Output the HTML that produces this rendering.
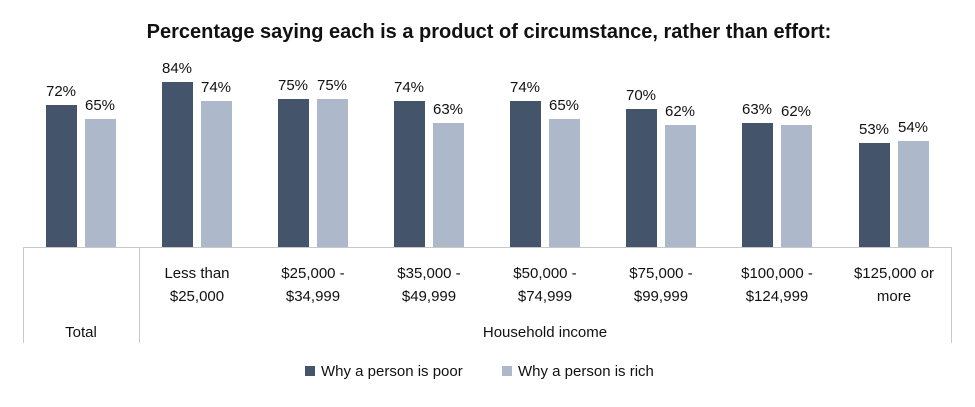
<!DOCTYPE html>
<html><head><meta charset="utf-8"><style>
body{margin:0;background:#fff;}
svg text{font-family:"Liberation Sans",Arial,sans-serif;fill:#111;}
</style></head><body>
<svg width="975" height="402" xmlns="http://www.w3.org/2000/svg">
<rect width="975" height="402" fill="#fff"/>
<text x="489" y="38" text-anchor="middle" font-size="20" font-weight="bold">Percentage saying each is a product of circumstance, rather than effort:</text>
<g stroke="#c8c8c8" stroke-width="1" fill="none">
<line x1="23" y1="247.5" x2="952" y2="247.5"/>
<line x1="23.5" y1="247" x2="23.5" y2="343"/>
<line x1="139.5" y1="247" x2="139.5" y2="343"/>
<line x1="951.5" y1="247" x2="951.5" y2="343"/>
</g>
<g font-size="15" text-anchor="middle">
<rect x="46" y="105" width="31" height="142" fill="#44546a"/><rect x="85" y="119" width="31" height="128" fill="#adb9ca"/>
<text x="61" y="96">72%</text><text x="100" y="110">65%</text>
<rect x="162" y="82" width="31" height="165" fill="#44546a"/><rect x="201" y="101" width="31" height="146" fill="#adb9ca"/>
<text x="177" y="73">84%</text><text x="216" y="92">74%</text>
<rect x="278" y="99" width="31" height="148" fill="#44546a"/><rect x="317" y="99" width="31" height="148" fill="#adb9ca"/>
<text x="293" y="90">75%</text><text x="332" y="90">75%</text>
<rect x="394" y="101" width="31" height="146" fill="#44546a"/><rect x="433" y="123" width="31" height="124" fill="#adb9ca"/>
<text x="409" y="92">74%</text><text x="448" y="114">63%</text>
<rect x="510" y="101" width="31" height="146" fill="#44546a"/><rect x="549" y="119" width="31" height="128" fill="#adb9ca"/>
<text x="525" y="92">74%</text><text x="564" y="110">65%</text>
<rect x="626" y="109" width="31" height="138" fill="#44546a"/><rect x="665" y="125" width="31" height="122" fill="#adb9ca"/>
<text x="641" y="100">70%</text><text x="680" y="116">62%</text>
<rect x="742" y="123" width="31" height="124" fill="#44546a"/><rect x="781" y="125" width="31" height="122" fill="#adb9ca"/>
<text x="757" y="114">63%</text><text x="796" y="116">62%</text>
<rect x="859" y="143" width="31" height="104" fill="#44546a"/><rect x="898" y="141" width="31" height="106" fill="#adb9ca"/>
<text x="874" y="134">53%</text><text x="913" y="132">54%</text>

<text x="197" y="278">Less than</text><text x="197" y="301">$25,000</text>
<text x="313" y="278">$25,000 -</text><text x="313" y="301">$34,999</text>
<text x="429" y="278">$35,000 -</text><text x="429" y="301">$49,999</text>
<text x="545" y="278">$50,000 -</text><text x="545" y="301">$74,999</text>
<text x="661" y="278">$75,000 -</text><text x="661" y="301">$99,999</text>
<text x="777" y="278">$100,000 -</text><text x="777" y="301">$124,999</text>
<text x="894" y="278">$125,000 or</text><text x="894" y="301">more</text>
<text x="81" y="337">Total</text>
<text x="545" y="337">Household income</text>
</g>
<rect x="305" y="366" width="10" height="10" fill="#44546a"/>
<text x="321" y="376" font-size="15">Why a person is poor</text>
<rect x="502" y="366" width="10" height="10" fill="#adb9ca"/>
<text x="518" y="376" font-size="15">Why a person is rich</text>
</svg>
</body></html>
